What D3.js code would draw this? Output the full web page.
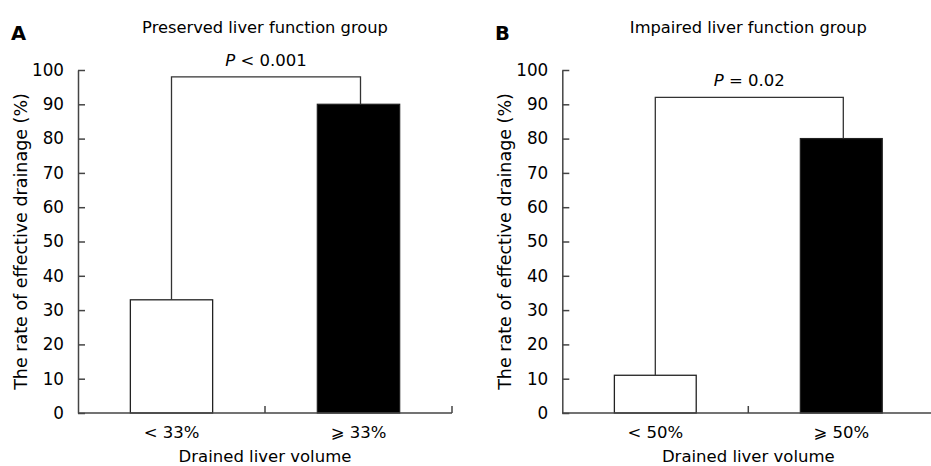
<!DOCTYPE html>
<html>
<head>
<meta charset="utf-8">
<script src="https://cdn.jsdelivr.net/npm/d3@7"></script>
<style>
  body { margin: 0; background: #fff; }
  svg text { font-family: "DejaVu Sans", sans-serif; font-size: 16.5px; fill: #000; }
  .axis path, .axis line { stroke: #444; stroke-width: 1.5; }
</style>
</head>
<body>
<div id="chart"></div>
<script>
// data
const yTicks = [0, 10, 20, 30, 40, 50, 60, 70, 80, 90, 100];

const categoriesA = ["< 33%", "\u2A7E 33%"];
const valuesA = [33, 90];
const bracketA = 98;
const titleA = "Preserved liver function group";
const pTextA = ["P", " < 0.001"];

const categoriesB = ["< 50%", "\u2A7E 50%"];
const valuesB = [11, 80];
const bracketB = 92;
const titleB = "Impaired liver function group";
const pTextB = ["P", " = 0.02"];

const barColors = ["#fff", "#000"];

const svg = d3.select("#chart").append("svg")
    .attr("width", 931)
    .attr("height", 466);

function drawPanel(opts) {
    let x0 = opts.left, x1 = opts.right;
    let top = 70, bottom = 413;

    let x = d3.scaleBand()
        .domain(opts.categories)
        .range([x0, x1])
        .paddingInner(0.56)
        .paddingOuter(0.28);

    let y = d3.scaleLinear()
        .domain([0, 100])
        .range([bottom, top]);

    let g = svg.append("g");

    // panel letter and title
    g.append("text")
        .attr("x", opts.letterX)
        .attr("y", 39.5)
        .style("font-weight", "bold")
        .style("font-size", "19.5px")
        .text(opts.letter);

    g.append("text")
        .attr("x", (x0 + x1) / 2)
        .attr("y", 33)
        .attr("text-anchor", "middle")
        .style("font-size", "16.3px")
        .text(opts.title);

    // bars
    g.selectAll("rect.bar")
        .data(opts.values)
        .enter().append("rect")
        .attr("class", "bar")
        .attr("x", (d, i) => x(opts.categories[i]))
        .attr("width", x.bandwidth())
        .attr("y", d => y(d))
        .attr("height", d => bottom - y(d))
        .attr("fill", (d, i) => barColors[i])
        .attr("stroke", "#222")
        .attr("stroke-width", 1.3);

    // y axis, ticks inside
    let yAxis = d3.axisLeft(y)
        .tickValues(yTicks)
        .tickSizeInner(-7)
        .tickSizeOuter(0)
        .tickPadding(14);

    let ya = g.append("g")
        .attr("class", "axis")
        .attr("transform", "translate(" + x0 + ",0)")
        .call(yAxis);
    ya.selectAll("text")
        .style("font-size", "16.8px")
        .style("font-family", "'DejaVu Sans', sans-serif")
        .attr("fill", "#000");

    // x axis line with upward ticks at band boundaries
    g.append("line")
        .attr("x1", x0).attr("x2", x1)
        .attr("y1", bottom).attr("y2", bottom)
        .attr("stroke", "#444").attr("stroke-width", 1.5);

    let bounds = d3.range(1, opts.categories.length + 1).map(i => x0 + i * x.step());
    g.selectAll("line.xtick")
        .data(bounds)
        .enter().append("line")
        .attr("class", "xtick")
        .attr("x1", d => d).attr("x2", d => d)
        .attr("y1", bottom).attr("y2", bottom - 7)
        .attr("stroke", "#444").attr("stroke-width", 1.5);

    g.selectAll("text.xlab")
        .data(opts.categories)
        .enter().append("text")
        .attr("class", "xlab")
        .attr("x", d => x(d) + x.bandwidth() / 2)
        .attr("y", 438)
        .attr("text-anchor", "middle")
        .text(d => d);

    // significance bracket
    let cx = opts.categories.map(c => x(c) + x.bandwidth() / 2);
    let bx = [cx[0], cx[1] + 2];
    let path = d3.path();
    path.moveTo(bx[0], y(opts.values[0]));
    path.lineTo(bx[0], y(opts.bracket));
    path.lineTo(bx[1], y(opts.bracket));
    path.lineTo(bx[1], y(opts.values[1]));
    g.append("path")
        .attr("d", path.toString())
        .attr("fill", "none")
        .attr("stroke", "#333")
        .attr("stroke-width", 1.3);

    let pt = g.append("text")
        .attr("x", (bx[0] + bx[1]) / 2)
        .attr("y", y(opts.bracket) - 11)
        .attr("text-anchor", "middle");
    pt.append("tspan").style("font-style", "italic").text(opts.pText[0]);
    pt.append("tspan").text(opts.pText[1]);

    // axis labels
    g.append("text")
        .attr("x", (x0 + x1) / 2)
        .attr("y", 462)
        .attr("text-anchor", "middle")
        .text("Drained liver volume");

    g.append("text")
        .attr("transform", "translate(" + (x0 - 51) + "," + ((top + bottom) / 2) + ") rotate(-90)")
        .attr("text-anchor", "middle")
        .style("font-size", "17.5px")
        .text("The rate of effective drainage (%)");
}

drawPanel({
    left: 78, right: 452, letter: "A", letterX: 11,
    categories: categoriesA, values: valuesA, bracket: bracketA,
    title: titleA, pText: pTextA
});

drawPanel({
    left: 562.3, right: 934.3, letter: "B", letterX: 495,
    categories: categoriesB, values: valuesB, bracket: bracketB,
    title: titleB, pText: pTextB
});
</script>
</body>
</html>
